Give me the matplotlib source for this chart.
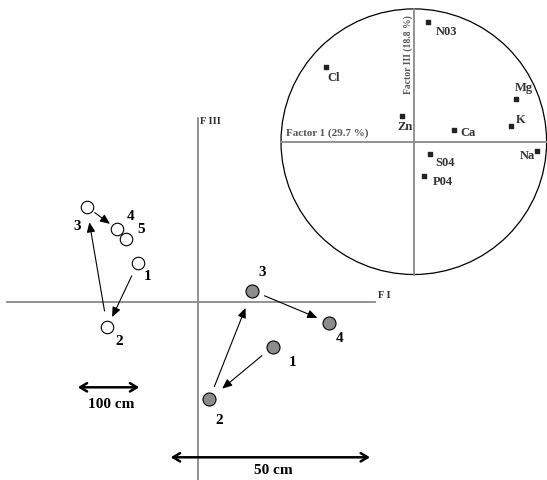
import matplotlib
matplotlib.use("Agg")
import matplotlib.pyplot as plt
from matplotlib.patches import Circle

plt.rcParams['font.family'] = ['Liberation Serif', 'DejaVu Serif']

# ---- Main factor plane (F I x F III), sample scores ----
open_labels = ["1", "2", "3", "4", "5"]
open_x = [-0.603, -0.907, -1.113, -0.807, -0.723]
open_y = [0.384, -0.256, 0.950, 0.724, 0.624]

grey_labels = ["1", "2", "3", "4"]
grey_x = [0.747, 0.113, 0.543, 1.310]
grey_y = [-0.450, -0.976, 0.110, -0.210]

# trajectories (index pairs: from -> to)
open_path = [(0, 1), (1, 2), (2, 3)]
grey_path = [(0, 1), (1, 2), (2, 3)]

# ---- Correlation circle, variable loadings ----
var_names = ["N03", "Cl", "Mg", "K", "Zn", "Ca", "Na", "S04", "P04"]
var_f1 = [0.107, -0.661, 0.767, 0.732, -0.089, 0.300, 0.925, 0.120, 0.075]
var_f3 = [0.904, 0.565, 0.324, 0.120, 0.194, 0.086, -0.068, -0.095, -0.256]

# ---- Layout / style (pixels converted to points) ----
PT = 0.72
open_lab_off = [(10.3, -13.4), (12, -14.4), (-9.7, -20.3), (13.4, 13.3), (15, 9.3)]
grey_lab_off = [(20, -16), (9.4, -20.7), (10, 18), (10.3, -16)]
open_shrink = [(13.9, 11.3), (16.6, 15.8), (10, 9.1)]
grey_shrink = [(14, 16.7), (13.7, 18.5), (13.2, 12.6)]
var_lab = {  # (dx px, dy px, ha, va)
    "N03": (7.7, -10, "left", "center"),
    "Cl": (1.3, -11.6, "left", "center"),
    "Mg": (-0.7, 10.4, "left", "center"),
    "K": (4.7, 5.7, "left", "center"),
    "Zn": (2.7, -11.3, "center", "center"),
    "Ca": (7, -3, "left", "center"),
    "Na": (-1.7, -5.3, "right", "center"),
    "S04": (6, -9, "left", "center"),
    "P04": (8.6, -6.6, "left", "center"),
}

fig = plt.figure(figsize=(5.47, 4.8), dpi=100)
ax = fig.add_axes([0, 0, 1, 1])
ax.set_xlim(-1.98, 3.49)
ax.set_ylim(-1.783, 3.017)
ax.axis("off")

axis_col = "#8a8a8a"
ax.plot([-1.91, 1.77], [0, 0], color=axis_col, lw=1.3, zorder=1)
ax.plot([0, 0], [-1.8, 1.837], color=axis_col, lw=1.3, zorder=1)
ax.text(1.80, 0.02, "F I", fontsize=7.5, fontweight="bold", color="#333333",
        ha="left", va="bottom")
ax.text(0.02, 1.80, "F III", fontsize=7.5, fontweight="bold", color="#333333",
        ha="left", va="center")

def draw_path(xs, ys, path, shrinks):
    for (a, b), (sa, sb) in zip(path, shrinks):
        ax.annotate("", xy=(xs[b], ys[b]), xytext=(xs[a], ys[a]),
                    arrowprops=dict(arrowstyle="-|>,head_length=0.42,head_width=0.18",
                                    color="black", lw=0.8,
                                    shrinkA=sa * PT, shrinkB=sb * PT,
                                    mutation_scale=14),
                    zorder=2)

draw_path(open_x, open_y, open_path, open_shrink)
draw_path(grey_x, grey_y, grey_path, grey_shrink)

ax.scatter(open_x, open_y, s=(12.5 * PT) ** 2, facecolor="white",
           edgecolor="black", lw=0.8, zorder=3)
ax.scatter(grey_x, grey_y, s=(13 * PT) ** 2, facecolor="#8c8c8c",
           edgecolor="black", lw=0.8, zorder=3)

for lab, x, y, (dx, dy) in zip(open_labels, open_x, open_y, open_lab_off):
    ax.annotate(lab, (x, y), xytext=(dx * PT, dy * PT), textcoords="offset points",
                ha="center", va="center", fontsize=11, fontweight="bold")
for lab, x, y, (dx, dy) in zip(grey_labels, grey_x, grey_y, grey_lab_off):
    ax.annotate(lab, (x, y), xytext=(dx * PT, dy * PT), textcoords="offset points",
                ha="center", va="center", fontsize=11, fontweight="bold")

# scale bars
ax.annotate("", xy=(-0.587, -0.856), xytext=(-1.203, -0.856),
            arrowprops=dict(arrowstyle="<->,head_length=0.5,head_width=0.3",
                            color="black", lw=1.8, shrinkA=0, shrinkB=0,
                            mutation_scale=10))
ax.text(-0.87, -1.026, "100 cm", fontsize=11, fontweight="bold",
        ha="center", va="center")
ax.annotate("", xy=(1.72, -1.556), xytext=(-0.273, -1.556),
            arrowprops=dict(arrowstyle="<->,head_length=0.5,head_width=0.3",
                            color="black", lw=1.8, shrinkA=0, shrinkB=0,
                            mutation_scale=10))
ax.text(0.753, -1.693, "50 cm", fontsize=11, fontweight="bold",
        ha="center", va="center")

# ---- correlation circle inset ----
cax = fig.add_axes([281 / 547, 1 - 274.5 / 480, 265.6 / 547, 265.6 / 480])
cax.set_xlim(-1, 1)
cax.set_ylim(-1, 1)
cax.axis("off")
cax.add_patch(Circle((0, 0), 1, fill=False, ec="black", lw=0.9, clip_on=False))
cax.plot([-1, 1], [0, 0], color=axis_col, lw=1.3, clip_on=False)
cax.plot([0, 0], [-1, 1], color=axis_col, lw=1.3, clip_on=False)
cax.text(-0.96, 0.03, "Factor 1 (29.7 %)", fontsize=7.9, fontweight="bold",
         color="#555555", ha="left", va="bottom")
cax.text(-0.045, 0.655, "Factor III (18.8 %)", fontsize=6.9, fontweight="bold",
         color="#555555", ha="center", va="center", rotation=90)

cax.scatter(var_f1, var_f3, marker="s", s=7, color="#222222", zorder=3,
            clip_on=False)
for name, x, y in zip(var_names, var_f1, var_f3):
    dx, dy, ha, va = var_lab[name]
    cax.annotate(name, (x, y), xytext=(dx * PT, dy * PT),
                 textcoords="offset points", ha=ha, va=va,
                 fontsize=9, fontweight="bold", color="#333333")

fig.savefig("out.png", dpi=100)
